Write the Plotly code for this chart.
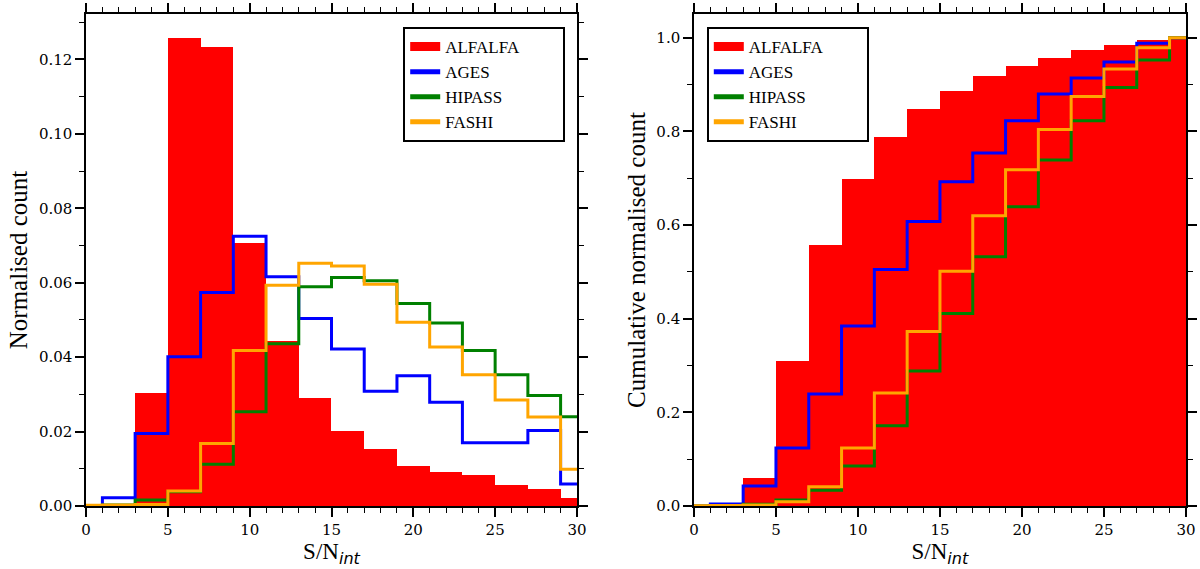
import plotly.graph_objects as go

# ------------------------------
# Data (bins of width 2, centred on even S/N)
bin_centres = [0, 2, 4, 6, 8, 10, 12, 14, 16, 18, 20, 22, 24, 26, 28, 30]
bin_edges = [-1, 1, 3, 5, 7, 9, 11, 13, 15, 17, 19, 21, 23, 25, 27, 29, 31]

alfalfa_norm = [0.0, 0.0, 0.0303, 0.1258, 0.1233, 0.0706, 0.0443, 0.0291, 0.0202, 0.0153, 0.0108, 0.0091, 0.0082, 0.0056, 0.0047, 0.0022]
ages_norm = [0.0, 0.0022, 0.0195, 0.0401, 0.0574, 0.0725, 0.0616, 0.0504, 0.0422, 0.0308, 0.0350, 0.0279, 0.0170, 0.0170, 0.0203, 0.0059]
hipass_norm = [0.0001, 0.0003, 0.0016, 0.0038, 0.0112, 0.0253, 0.0436, 0.0589, 0.0614, 0.0605, 0.0544, 0.0492, 0.0418, 0.0353, 0.0297, 0.0240]
fashi_norm = [0.0002, 0.0003, 0.0004, 0.0040, 0.0168, 0.0418, 0.0593, 0.0652, 0.0645, 0.0596, 0.0494, 0.0427, 0.0353, 0.0285, 0.0239, 0.0099]

alfalfa_cum = [0.0, 0.0, 0.0605, 0.3105, 0.5577, 0.6987, 0.787, 0.8476, 0.8868, 0.9174, 0.9387, 0.9573, 0.9729, 0.985, 0.9943, 1.0]
ages_cum = [0.0, 0.0045, 0.0427, 0.124, 0.2393, 0.3846, 0.505, 0.6075, 0.6923, 0.7536, 0.8226, 0.8796, 0.9138, 0.948, 0.9879, 1.0]
hipass_cum = [0.0002, 0.001, 0.004, 0.0128, 0.0335, 0.0855, 0.1716, 0.2885, 0.411, 0.532, 0.639, 0.739, 0.8226, 0.8939, 0.9523, 1.0]
fashi_cum = [0.0004, 0.001, 0.002, 0.0093, 0.0413, 0.124, 0.2415, 0.3725, 0.5014, 0.6197, 0.718, 0.804, 0.8746, 0.933, 0.9786, 1.0]

line_series = ['AGES', 'HIPASS', 'FASHI']
line_colours = {'ALFALFA': '#ff0000', 'AGES': '#0000ff', 'HIPASS': '#008000', 'FASHI': '#ffa500'}
# ------------------------------

serif = 'Liberation Serif'
fig = go.Figure()

panels = [
    ('x', 'y', 'legend', alfalfa_norm, {'AGES': ages_norm, 'HIPASS': hipass_norm, 'FASHI': fashi_norm}),
    ('x2', 'y2', 'legend2', alfalfa_cum, {'AGES': ages_cum, 'HIPASS': hipass_cum, 'FASHI': fashi_cum}),
]

pad = '\u00a0' * 9  # legend box in the original has empty room on the right

for xa, ya, leg, alf, steps in panels:
    fig.add_trace(go.Bar(x=bin_centres, y=alf, width=2, marker=dict(color='#ff0000', line=dict(width=0)),
                         xaxis=xa, yaxis=ya, showlegend=False, hoverinfo='skip'))
    for name in line_series:
        vals = steps[name]
        fig.add_trace(go.Scatter(x=bin_edges, y=vals + [vals[-1]], mode='lines', line_shape='hv',
                                 line=dict(color=line_colours[name], width=3),
                                 xaxis=xa, yaxis=ya, showlegend=False))
    # legend-only entries (thicker patches like the original)
    for name, w in [('ALFALFA', 9), ('AGES', 5), ('HIPASS', 5), ('FASHI', 5)]:
        fig.add_trace(go.Scatter(x=[None], y=[None], mode='lines',
                                 name=name + (pad if name == 'ALFALFA' else ''),
                                 line=dict(color=line_colours[name], width=w),
                                 xaxis=xa, yaxis=ya, legend=leg, showlegend=True))

axis_common = dict(showline=True, linecolor='black', linewidth=1.5, mirror='ticks',
                   ticks='outside', ticklen=9, tickwidth=1.5, tickcolor='black',
                   showgrid=False, zeroline=False, automargin=False,
                   tickfont=dict(family='DejaVu Serif', size=15, color='black'))
minor_common = dict(ticklen=5, tickwidth=1.2, tickcolor='black', ticks='outside')

xtitle = 'S/N<sub><span style="font-family:DejaVu Sans;font-style:italic">int</span></sub>'

fig.update_layout(
    width=1200, height=569,
    margin=dict(l=0, r=0, t=14, b=63),
    paper_bgcolor='white', plot_bgcolor='white',
    bargap=0, barmode='overlay',
    xaxis=dict(domain=[0.0717, 0.4808], range=[0, 30], dtick=5, tick0=0,
               minor=dict(dtick=1, **minor_common),
               title=dict(text=xtitle, font=dict(family=serif, size=23, color='black'), standoff=0),
               anchor='y', **axis_common),
    yaxis=dict(domain=[0, 1], range=[0, 0.1322], dtick=0.02, tick0=0, tickformat='.2f',
               minor=dict(dtick=0.01, **minor_common),
               title=dict(text='Normalised count', font=dict(family=serif, size=25, color='black'), standoff=4),
               anchor='x', **axis_common),
    xaxis2=dict(domain=[0.5783, 0.9883], range=[0, 30], dtick=5, tick0=0,
                minor=dict(dtick=1, **minor_common),
                title=dict(text=xtitle, font=dict(family=serif, size=23, color='black'), standoff=0),
                anchor='y2', **axis_common),
    yaxis2=dict(domain=[0, 1], range=[0, 1.0506], dtick=0.2, tick0=0, tickformat='.1f',
                minor=dict(dtick=0.1, **minor_common),
                title=dict(text='Cumulative normalised count', font=dict(family=serif, size=25, color='black'), standoff=4),
                anchor='x2', **axis_common),
    legend=dict(x=0.336, y=0.9736, xanchor='left', yanchor='top', bgcolor='white',
                bordercolor='black', borderwidth=2, font=dict(family=serif, size=17, color='black'),
                itemwidth=30, tracegroupgap=0),
    legend2=dict(x=0.589, y=0.9736, xanchor='left', yanchor='top', bgcolor='white',
                 bordercolor='black', borderwidth=2, font=dict(family=serif, size=17, color='black'),
                 itemwidth=30, tracegroupgap=0),
)

# drop the default 8px page margin so the figure sits at the window's corner
fig.write_html("out.html", config={'displayModeBar': False},
               post_script="document.body.style.margin='0px';document.body.style.overflow='hidden';")
